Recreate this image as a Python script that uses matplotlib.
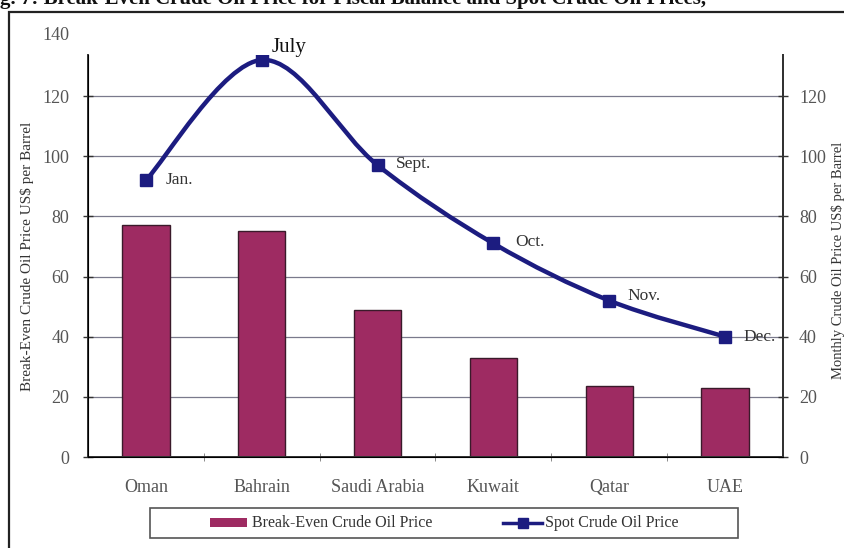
import numpy as np
import matplotlib.pyplot as plt
from matplotlib.path import Path
from matplotlib.patches import PathPatch, Rectangle
from matplotlib.lines import Line2D

plt.rcParams["font.family"] = ["Liberation Serif", "DejaVu Serif"]

countries = ["Oman", "Bahrain", "Saudi Arabia", "Kuwait", "Qatar", "UAE"]
break_even = [77, 75, 49, 33, 23.5, 23]
months = ["Jan.", "July", "Sept.", "Oct.", "Nov.", "Dec."]
spot_price = [92, 132, 97, 71, 52, 40]
left_ticks = [0, 20, 40, 60, 80, 100, 120]
right_ticks = [0, 20, 40, 60, 80, 100, 120]

W, H = 845, 548
BAR = "#9e2b62"
LINE = "#1c1c80"


def fx(px):
    return px / W


def fy(py):
    return 1 - py / H


def smooth_path(x, y):
    # excel-like smoothed line: catmull-rom turned into bezier segments
    pts = np.column_stack([x, y]).astype(float)
    ext = np.vstack([pts[0], pts, pts[-1]])
    verts = [pts[0]]
    codes = [Path.MOVETO]
    for i in range(len(pts) - 1):
        p0, p1, p2, p3 = ext[i], ext[i + 1], ext[i + 2], ext[i + 3]
        verts += [p1 + (p2 - p0) / 6, p2 - (p3 - p1) / 6, p2]
        codes += [Path.CURVE4] * 3
    return Path(verts, codes)


fig = plt.figure(figsize=(W / 100, H / 100), dpi=100)

# cropped heading + outer frame of the scanned figure
fig.text(0.0, fy(4), "g. 7: Break-Even Crude Oil Price for Fiscal Balance and Spot Crude Oil Prices,",
         fontsize=15, fontweight="bold", va="baseline", ha="left", color="#111")
fig.patches.append(Rectangle((fx(9), -0.1), 1.2, fy(12) + 0.1, transform=fig.transFigure,
                             fill=False, edgecolor="#222", lw=1.6))

ax_left, ax_w = 88, 783 - 88
ax = fig.add_axes([fx(ax_left), fy(457), fx(783) - fx(88), fy(55) - fy(457)])
ymax = (457 - 55) / 3.008
x = np.arange(len(countries))

ax.bar(x, break_even, width=0.41, color=BAR, edgecolor="#3a1a2a", lw=1, zorder=2)
ax.set_xlim(-0.5, len(countries) - 0.5)
ax.set_ylim(0, ymax)
ax.set_yticks(left_ticks)
ax.yaxis.grid(True, color="#7a7a8c", lw=0.9, zorder=0)
ax.set_axisbelow(True)
ax.set_xticks(x)
ax.set_xticklabels(countries)
ax.set_xticks(x[:-1] + 0.5, minor=True)
ax.tick_params(axis="x", which="major", length=0, pad=16, labelsize=13, labelcolor="#555")
ax.tick_params(axis="x", which="minor", direction="inout", length=6, color="#777")
ax.tick_params(axis="y", direction="inout", length=7, width=1, color="#333", labelsize=13,
               labelcolor="#555", pad=10)
ax.text(-0.027, 140, "140", transform=ax.get_yaxis_transform(), ha="right", va="center",
        fontsize=13, color="#555", clip_on=False)
ax.set_ylabel("Break-Even Crude Oil Price US$ per Barrel", fontsize=11, color="#333")
ax.yaxis.set_label_coords((34 - ax_left) / ax_w, 0.5)
for side in ["left", "right", "bottom"]:
    ax.spines[side].set_color("#333")
    ax.spines[side].set_linewidth(1.4)
ax.spines["top"].set_visible(False)

ax2 = ax.twinx()
ax2.set_ylim(0, ymax)
ax2.set_yticks(right_ticks)
ax2.tick_params(axis="y", direction="inout", length=7, width=1, color="#333", labelsize=13,
                labelcolor="#555", pad=8)
ax2.set_ylabel("Monthly Crude Oil Price US$ per Barrel", fontsize=10.5, color="#333",
               rotation=90)
ax2.yaxis.set_label_coords((831 - ax_left) / ax_w, 0.49)
ax2.spines["top"].set_visible(False)
ax2.spines["right"].set_color("#333")
ax2.spines["right"].set_linewidth(1.4)

ax2.add_patch(PathPatch(smooth_path(x, spot_price), facecolor="none", edgecolor=LINE,
                        lw=3.2, capstyle="round", zorder=3))
ax2.plot(x, spot_price, ls="none", marker="s", ms=8, color=LINE, zorder=4)

offsets = {"Jan.": (14, 0), "July": (7, 9), "Sept.": (13, 1), "Oct.": (16, 1),
           "Nov.": (13, 3), "Dec.": (13, 0)}
for xi, yi, m in zip(x, spot_price, months):
    big = m == "July"
    ax2.annotate(m, (xi, yi), xytext=offsets[m], textcoords="offset points",
                 ha="left", va="center", fontsize=15 if big else 12.5,
                 color="#111" if big else "#333")

# legend drawn as a boxed strip under the axis
fig.patches.append(Rectangle((fx(150), fy(538)), fx(738) - fx(150), fy(508) - fy(538),
                             transform=fig.transFigure, fill=False, edgecolor="#555", lw=1.2))
fig.patches.append(Rectangle((fx(210), fy(527)), fx(247) - fx(210), fy(518) - fy(527),
                             transform=fig.transFigure, facecolor=BAR, edgecolor="none"))
fig.text(fx(252), fy(523), "Break-Even Crude Oil Price", fontsize=11.5, color="#333",
         va="center", ha="left")
fig.lines.append(Line2D([fx(503), fx(542)], [fy(523), fy(523)], transform=fig.transFigure,
                        color=LINE, lw=2.5))
fig.lines.append(Line2D([fx(522.5)], [fy(523)], transform=fig.transFigure, color=LINE,
                        marker="s", ms=7, ls="none"))
fig.text(fx(545), fy(523), "Spot Crude Oil Price", fontsize=11.5, color="#333",
         va="center", ha="left")

fig.savefig("out.png", dpi=100)
